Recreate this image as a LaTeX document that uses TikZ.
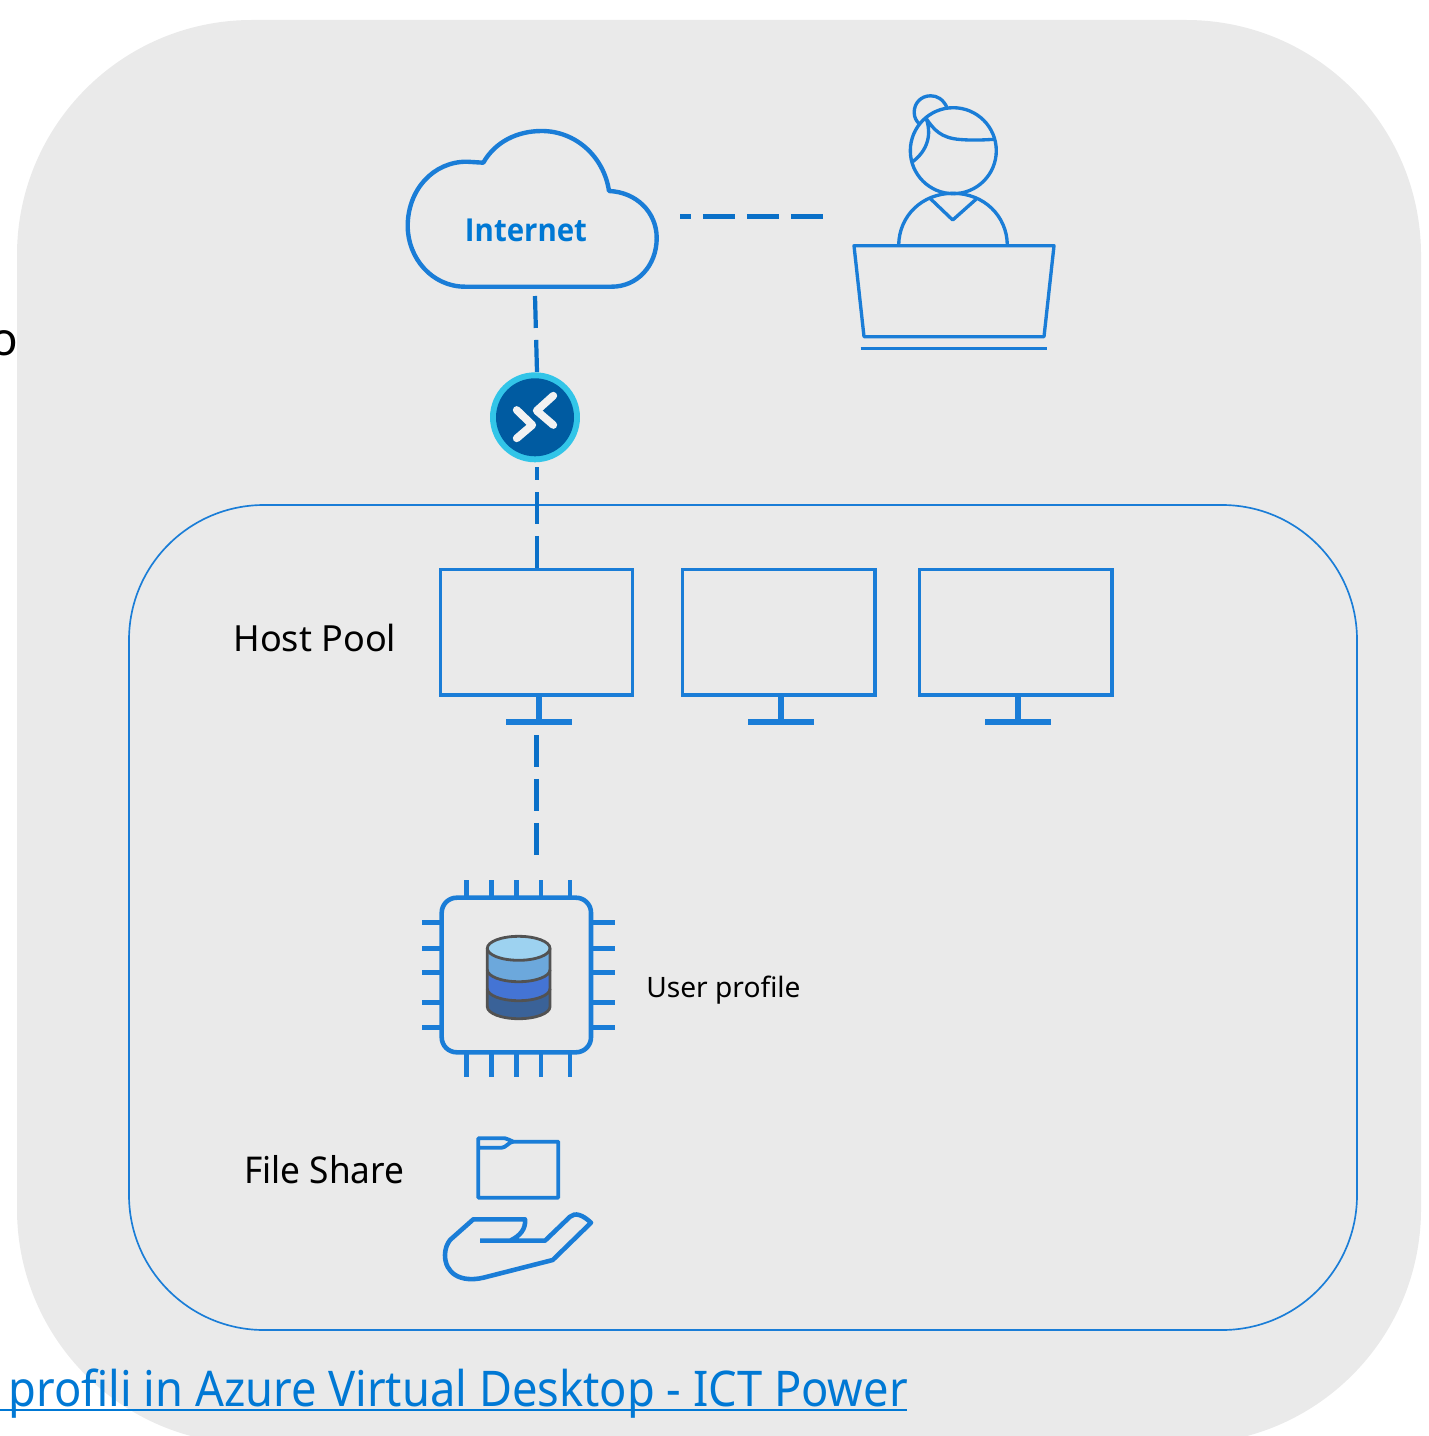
\documentclass[tikz,border=0pt]{standalone}
\usepackage{fontspec}
\setmainfont{Noto Sans}
\newfontfamily\boldf{Open Sans}[FakeStretch=0.93]
\newfontfamily\narrowf{Noto Sans}[FakeStretch=0.92]
\newfontfamily\midf{Noto Sans}[FakeStretch=0.955]
\definecolor{bgg}{HTML}{EAEAEA}
\definecolor{iconb}{HTML}{1A7DD7}
\definecolor{linkb}{HTML}{0078D4}
\definecolor{dashb}{HTML}{0A70C8}
\definecolor{gwring}{HTML}{32C5E8}
\definecolor{gwcore}{HTML}{005BA1}
\definecolor{chev}{HTML}{F2F2F2}
\definecolor{dbtop}{HTML}{9DD2F0}
\definecolor{dbone}{HTML}{6CA8DC}
\definecolor{dbtwo}{HTML}{4474D4}
\definecolor{dbthree}{HTML}{3A6298}
\tikzset{
  icon/.style={draw=iconb,line width=2.5pt,line join=round},
  iconthin/.style={draw=iconb,line width=1.9pt,line join=round},
  dashlink/.style={draw=dashb,line width=2.4pt,dash pattern=on 18.2pt off 6.83pt},
  label/.style={inner sep=0pt,text=black},
  cyl/.style={draw=black!68,line width=1.6pt},
  chevron/.style={line width=4.4pt,draw=chev,line cap=round,line join=round},
}
\begin{document}
\begin{tikzpicture}[x=0.02cm,y=-0.02cm]
\useasboundingbox (0,0) rectangle (1429,1436);
\clip (0,0) rectangle (1429,1436);
\fill[bgg,rounded corners=4.7cm] (17,20) rectangle (1421,1444);
\draw[draw=iconb,line width=0.95pt,rounded corners=2.7cm] (129,505) rectangle (1357,1330);
% text fragment cut by the left edge
\node[label,font=\fontsize{26}{26}\selectfont,anchor=center] (frag) at (4,343) {o};
% cloud
\draw[icon] (483.3,162.7) .. controls (495,142) and (517,131) .. (541.7,131)
  .. controls (576,131) and (604,157) .. (609,191)
  .. controls (636,192) and (656.7,212) .. (656.7,238)
  .. controls (656.7,266) and (637,286.7) .. (611.7,286.7)
  -- (465,286.7)
  .. controls (432,286.7) and (407.7,258) .. (407.7,226)
  .. controls (407.7,190) and (433,161.7) .. (466.7,161.7)
  -- cycle;
\node[label,text=linkb,font=\fontsize{18}{18}\selectfont\boldf\bfseries] (cloud) at (526,230) {Internet};
\coordinate (cloudR) at (680,216.5);
\coordinate (personL) at (823,216.5);
\coordinate (cloudB) at (535,296);
\coordinate (gwT) at (537,372);
\coordinate (gwB) at (536.7,467);
\coordinate (monT) at (536.7,569);
\coordinate (monB) at (536.4,735);
\coordinate (chipT) at (536.4,855);
\draw[dashlink,dash phase=11.95pt] (cloudR) -- (personL);
\draw[dashlink] (cloudB) -- (gwT);
\draw[dashlink,dash phase=10.8pt] (gwB) -- (monT);
\draw[dashlink] (monB) -- (chipT);
% person
\begin{scope}[iconthin]
\draw (953.3,150.7) circle (21.5*0.04cm);
\draw (947,107.5) .. controls (943,99) and (937,95.8) .. (930.7,95.8)
  .. controls (921,95.8) and (914.2,103) .. (914.2,112.3)
  .. controls (914.2,117) and (916,121) .. (919.5,124);
\draw (926,118.3) .. controls (934,130) and (941,138) .. (960,139.5) .. controls (972,140.5) and (984,140) .. (994,139.3);
\draw (926,118.3) .. controls (930,128) and (932,147) .. (912.7,161.7);
\draw (898.7,245) .. controls (899,216) and (922,193.3) .. (953,193.3) .. controls (984,193.3) and (1007,216) .. (1007.3,245);
\draw (930,198.3) -- (952.7,220) -- (976,199.3);
\draw (854,245.7) -- (1054,245.7) -- (1044,336.7) -- (864,336.7) -- cycle;
\draw (860.7,348.3) -- (1047.3,348.3);
\end{scope}
% gateway
\node[circle,fill=gwring,inner sep=0pt,minimum size=1.8cm] (gw) at (535,417.3) {};
\node[circle,fill=gwcore,inner sep=0pt,minimum size=1.56cm] (gwin) at (gw.center) {};
\draw[chevron] (516.7,410) -- (532.3,425) -- (516.7,438.3);
\draw[chevron] (553.3,395.7) -- (536.7,410.7) -- (553.3,425);
% monitors
\foreach \xa/\xb/\xs in {440.5/632.5/539,682.5/875/781,919.5/1112/1018}{
  \draw[icon,line width=2.2pt,line join=miter] (\xa,569.5) rectangle (\xb,695);
  \draw[icon,line width=3pt] (\xs,695) -- (\xs,722);
  \draw[icon,line width=3pt] (\xs-33,722) -- (\xs+33,722);
}
\node[label,anchor=west,font=\fontsize{20.5}{21}\selectfont] (hp) at (233,638) {Host Pool};
% chip
\draw[icon,line width=2.6pt,rounded corners=0.3cm] (441.7,897.7) rectangle (591,1052.3);
\foreach \x in {466.7,491.7,516.3,541,570}{
  \draw[icon,line width=2.7pt] (\x,880) -- (\x,897.7);
  \draw[icon,line width=2.7pt] (\x,1052.3) -- (\x,1077);
}
\foreach \y in {922.7,948.3,972.7,1002.3,1027.3}{
  \draw[icon,line width=2.7pt] (422,\y) -- (441.7,\y);
  \draw[icon,line width=2.7pt] (591,\y) -- (615,\y);
}
% database
\fill[dbthree] (487.3,985) rectangle (550,1006.7);
\fill[dbthree] (487.3,1006.7) arc[start angle=180,end angle=0,x radius=31.35,y radius=12];
\fill[dbtwo] (487.3,965) rectangle (550,988.7);
\fill[dbtwo] (487.3,988.7) arc[start angle=180,end angle=0,x radius=31.35,y radius=12];
\fill[dbone] (487.3,948.3) rectangle (550,969.7);
\fill[dbone] (487.3,969.7) arc[start angle=180,end angle=0,x radius=31.35,y radius=12];
\draw[cyl,fill=dbtop] (518.65,948.3) ellipse [x radius=31.35,y radius=12];
\draw[cyl] (487.3,948.3) -- (487.3,1006.7) arc[start angle=180,end angle=0,x radius=31.35,y radius=12] -- (550,948.3);
\draw[cyl] (487.3,969.7) arc[start angle=180,end angle=0,x radius=31.35,y radius=12];
\draw[cyl] (487.3,988.7) arc[start angle=180,end angle=0,x radius=31.35,y radius=12];
\node[label,anchor=west,font=\fontsize{16}{16}\selectfont] (up) at (646,990) {User profile};
% folder + hand
\node[label,anchor=west,font=\fontsize{21}{21}\selectfont\midf] (fs) at (244,1170) {File Share};
\draw[icon,line width=2.2pt] (478.3,1147.7) -- (501.7,1147.7) .. controls (506,1147.7) and (509,1141.7) .. (513.3,1141.7) -- (558.3,1141.7) -- (558.3,1197.7) -- (478.3,1197.7) -- (478.3,1138.3) -- (505,1138.3) .. controls (508,1138.3) and (510,1141) .. (513.3,1141.7);
\draw[icon,line width=2.6pt] (480,1240.7) -- (545,1240.7) -- (570,1216.7) .. controls (575,1212) and (583,1215) .. (591,1222.7) -- (552.7,1260) -- (483.3,1277.7) .. controls (460,1283) and (445,1273) .. (445,1255) .. controls (445,1249) and (447,1244) .. (450,1240) -- (473.3,1219.3) -- (525,1219.3) .. controls (526,1229) and (520,1236) .. (510,1240.7);
% link
\node[label,anchor=base west,text=linkb,font=\fontsize{28}{28}\selectfont\narrowf] (link) at (8,1406) {profili in Azure Virtual Desktop - ICT Power};
\coordinate (ulL) at (0,1410);
\coordinate (ulR) at (907,1410);
\draw[draw=linkb,line width=1.6pt] (ulL) -- (ulR);
\end{tikzpicture}
\end{document}
